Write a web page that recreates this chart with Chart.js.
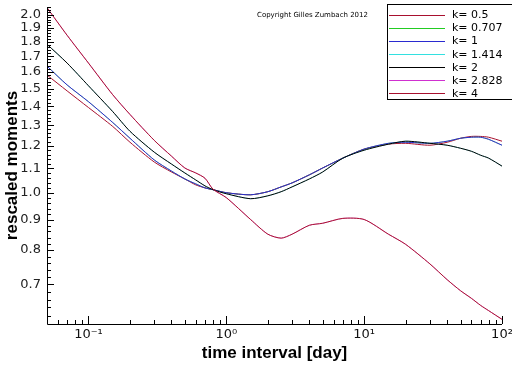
<!DOCTYPE html>
<html>
<head>
<meta charset="utf-8">
<script src="https://cdn.jsdelivr.net/npm/chart.js@4/dist/chart.umd.min.js"></script>
<style>
html,body{margin:0;padding:0;background:#fff;}
#wrap{width:512px;height:366px;position:relative;}
</style>
</head>
<body>
<div id="wrap"><canvas id="c" width="512" height="366"></canvas></div>
<script>
// time interval [day]
const timeInterval = [0.05,0.07,0.1,0.15,0.2,0.3,0.4,0.5,0.6,0.7,0.8,1,1.5,2,2.5,3,4,5,7,10,15,20,30,40,50,60,70,80,100];

const kLabels = ["k=0.5","k=0.707","k=1","k=1.414","k=2","k=2.828","k=4"];
const kColors = ["#a8102e","#22cc22","#2a2ad0","#33e0e0","#000000","#d030d0","#a8102e"];

const k0_5   = [1.581,1.486,1.393,1.294,1.217,1.127,1.084,1.055,1.031,1.019,1.012,1.000,0.992,1.004,1.023,1.039,1.072,1.101,1.144,1.185,1.208,1.212,1.203,1.217,1.236,1.245,1.245,1.241,1.222];
const k0_707 = [1.637,1.521,1.425,1.314,1.236,1.136,1.088,1.055,1.035,1.019,1.012,1.000,0.992,1.004,1.023,1.039,1.072,1.101,1.144,1.185,1.212,1.217,1.212,1.222,1.236,1.241,1.241,1.231,1.203];
const k1     = [1.637,1.521,1.425,1.314,1.236,1.136,1.088,1.055,1.035,1.019,1.012,1.000,0.992,1.004,1.023,1.039,1.072,1.101,1.144,1.185,1.212,1.217,1.212,1.222,1.236,1.241,1.241,1.231,1.203];
const k1_414 = [1.782,1.656,1.516,1.371,1.270,1.171,1.118,1.080,1.051,1.027,1.012,0.996,0.977,0.988,1.004,1.023,1.055,1.084,1.144,1.180,1.208,1.222,1.212,1.203,1.189,1.175,1.157,1.144,1.109];
const k2     = [1.782,1.656,1.516,1.371,1.270,1.171,1.118,1.080,1.051,1.027,1.012,0.996,0.977,0.988,1.004,1.023,1.055,1.084,1.144,1.180,1.208,1.222,1.212,1.203,1.189,1.175,1.157,1.144,1.109];
const k2_828 = [2.055,1.845,1.656,1.464,1.356,1.226,1.153,1.101,1.080,1.058,1.014,0.981,0.901,0.851,0.838,0.851,0.881,0.888,0.905,0.901,0.851,0.818,0.758,0.713,0.683,0.663,0.645,0.632,0.611];
const k4     = [2.055,1.845,1.656,1.464,1.356,1.226,1.153,1.101,1.080,1.058,1.014,0.981,0.901,0.851,0.838,0.851,0.881,0.888,0.905,0.901,0.851,0.818,0.758,0.713,0.683,0.663,0.645,0.632,0.611];
const seriesValues = [k0_5,k0_707,k1,k1_414,k2,k2_828,k4];
// series lying exactly under another one in the picture
const coveredSeries = [false,true,false,true,false,true,false];

const xMajorTicks = [0.1,1,10,100];
const xTickLabels = ["10\u207B\u00B9","10\u2070","10\u00B9","10\u00B2"];
const yMajorTicks = [0.7,0.8,0.9,1.0,1.1,1.2,1.3,1.4,1.5,1.6,1.7,1.8,1.9,2.0];
const yTickLabels = ["0.7","0.8","0.9","1.0","1.1","1.2","1.3","1.4","1.5","1.6","1.7","1.8","1.9","2.0"];

const X_MIN = 0.05, X_MAX = 100, Y_MIN = 0.608, Y_MAX = 2.06;

// minor ticks
function xMinor(){
  const out=[];
  for(let e=-2;e<=1;e++){ for(let m=2;m<=9;m++){ const v=m*Math.pow(10,e); if(v>=X_MIN-1e-9&&v<=X_MAX) out.push(+v.toPrecision(6)); } }
  return out;
}
function yMinor(){
  const out=[];
  for(let i=Math.ceil(Y_MIN/0.02);i*0.02<=Y_MAX+1e-9;i++){ const v=+(i*0.02).toFixed(2); if(Math.abs(v*10-Math.round(v*10))>1e-6) out.push(v); }
  return out;
}

const datasets = kLabels.map((lab,i)=>({
  label: lab,
  data: timeInterval.map((t,j)=>({x:t,y:seriesValues[i][j]})),
  borderColor: kColors[i],
  backgroundColor: kColors[i],
  borderWidth: coveredSeries[i] ? 0.5 : 1,
  pointRadius: 0,
  tension: 0.25,
  fill: false,
  order: kLabels.length - 1 - i
}));

const axisPlugin = {
  id:'axisPlugin',
  afterDraw(chart){
    const ctx=chart.ctx, ca=chart.chartArea, xs=chart.scales.x, ys=chart.scales.y;
    ctx.save();
    ctx.strokeStyle='#000'; ctx.lineWidth=1;
    ctx.beginPath();
    ctx.moveTo(ca.left+0.5, ca.top); ctx.lineTo(ca.left+0.5, ca.bottom+0.5);
    ctx.lineTo(ca.right, ca.bottom+0.5);
    ctx.stroke();
    ctx.beginPath();
    xMajorTicks.forEach(v=>{const p=Math.round(xs.getPixelForValue(v))+0.5; ctx.moveTo(p,ca.bottom); ctx.lineTo(p,ca.bottom-8);});
    xMinor().forEach(v=>{const p=Math.round(xs.getPixelForValue(v))+0.5; ctx.moveTo(p,ca.bottom); ctx.lineTo(p,ca.bottom-4);});
    yMajorTicks.forEach(v=>{const p=Math.round(ys.getPixelForValue(v))+0.5; ctx.moveTo(ca.left,p); ctx.lineTo(ca.left+7,p);});
    yMinor().forEach(v=>{const p=Math.round(ys.getPixelForValue(v))+0.5; ctx.moveTo(ca.left,p); ctx.lineTo(ca.left+4,p);});
    ctx.stroke();

    // copyright
    ctx.fillStyle='#000';
    ctx.font='7px "DejaVu Sans"';
    ctx.textBaseline='middle'; ctx.textAlign='left';
    ctx.fillText('Copyright Gilles Zumbach 2012',257,15);

    // legend
    ctx.fillStyle='#fff';
    ctx.fillRect(387.5,4.5,140,95);
    ctx.strokeStyle='#000';
    ctx.strokeRect(387.5,4.5,140,95);
    ctx.font='11px "DejaVu Sans"';
    chart.data.datasets.forEach((ds,i)=>{
      const y=15+i*13.05;
      ctx.strokeStyle=ds.borderColor; ctx.lineWidth=1;
      ctx.beginPath(); ctx.moveTo(389,Math.round(y)+0.5); ctx.lineTo(445,Math.round(y)+0.5); ctx.stroke();
      ctx.fillStyle='#000';
      ctx.fillText(ds.label.replace('=','= '),452,y+0.5);
    });
    ctx.restore();
  }
};

new Chart(document.getElementById('c'),{
  type:'line',
  data:{datasets},
  options:{
    responsive:false,
    animation:false,
    devicePixelRatio:1,
    layout:{padding:{top:7,right:10,left:0,bottom:0}},
    plugins:{legend:{display:false},tooltip:{enabled:false}},
    scales:{
      x:{
        type:'logarithmic', min:X_MIN, max:X_MAX,
        grid:{display:false, drawTicks:false},
        border:{display:false},
        afterBuildTicks(s){ s.ticks = xMajorTicks.map(v=>({value:v, major:true})); },
        afterFit(s){ s.height=42; s.paddingLeft=0; s.paddingRight=0; },
        ticks:{
          autoSkip:false, maxRotation:0, padding:3, color:'#111',
          font:{family:'"DejaVu Sans"', size:13},
          callback(v){ const i=xMajorTicks.findIndex(m=>Math.abs(m-v)/m<1e-6); return i>=0?xTickLabels[i]:''; }
        },
        title:{display:true, text:'time interval [day]', color:'#000',
          font:{family:'"Liberation Sans"', size:17, weight:'bold'}, padding:{top:0,bottom:2}}
      },
      y:{
        type:'logarithmic', min:Y_MIN, max:Y_MAX,
        grid:{display:false, drawTicks:false},
        border:{display:false},
        afterBuildTicks(s){ s.ticks = yMajorTicks.map(v=>({value:v, major:true})); },
        afterFit(s){ s.width=47; s.paddingTop=0; s.paddingBottom=0; },
        ticks:{
          autoSkip:false, padding:6, color:'#222',
          font:{family:'"DejaVu Sans"', size:13},
          callback(v){ const i=yMajorTicks.findIndex(m=>Math.abs(m-v)<1e-6); return i>=0?yTickLabels[i]:''; }
        },
        title:{display:true, text:'rescaled moments', color:'#000',
          font:{family:'"Liberation Sans"', size:17, weight:'bold'}, padding:{top:2,bottom:0}}
      }
    }
  },
  plugins:[axisPlugin]
});
</script>
</body>
</html>
